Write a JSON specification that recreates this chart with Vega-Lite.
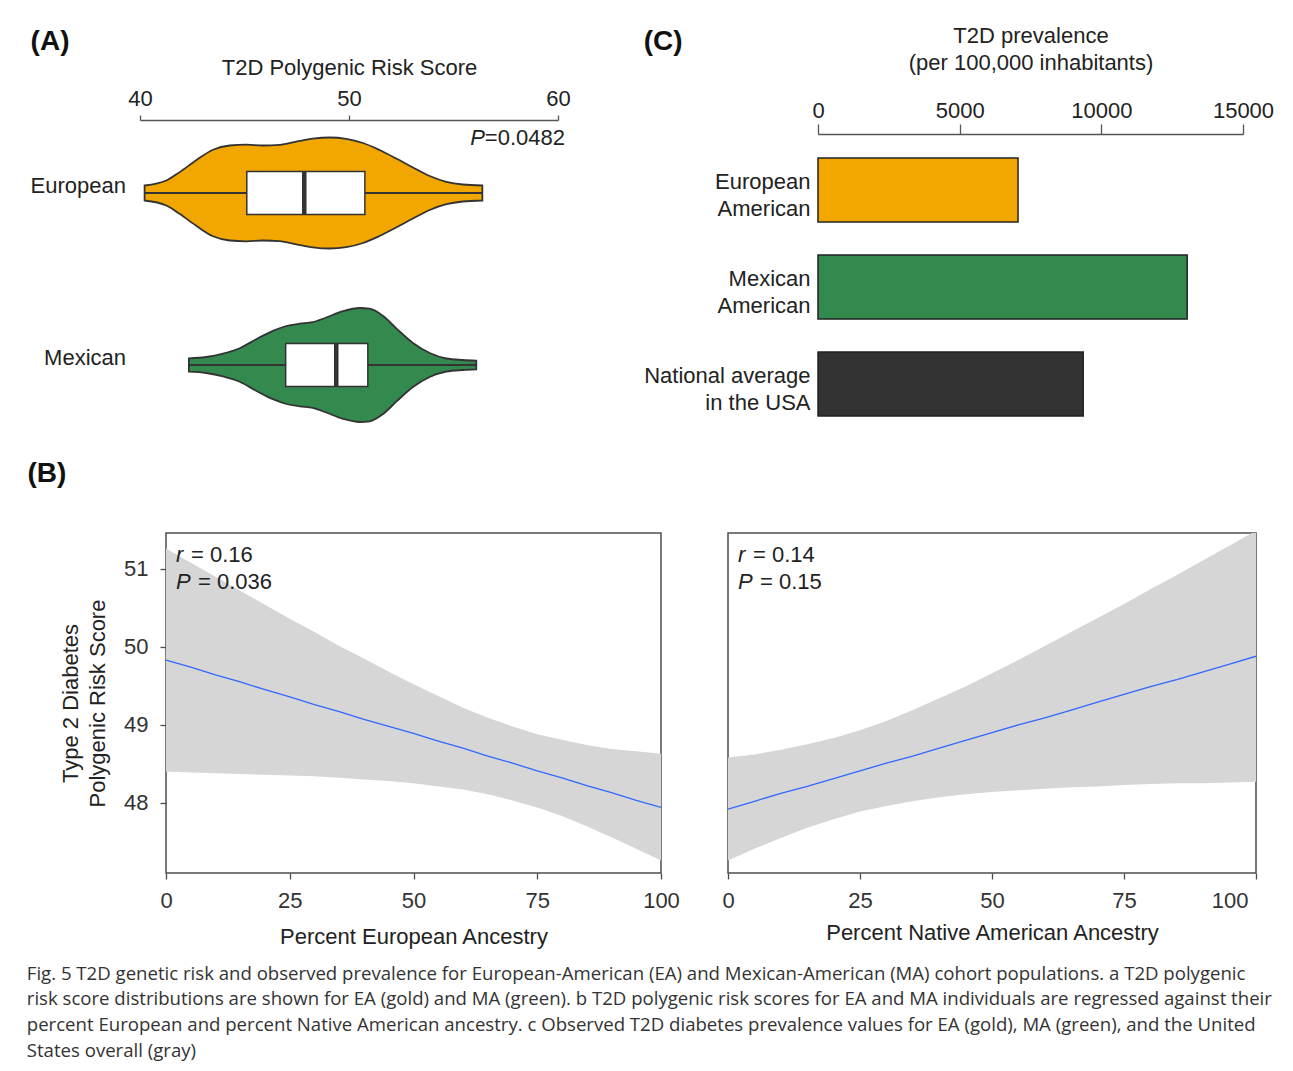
{
  "$schema": "https://vega.github.io/schema/vega-lite/v6.json",
  "padding": {"left": 26, "top": 24, "right": 15, "bottom": 0},
  "background": "white",
  "config": {
    "font": "Liberation Sans",
    "view": {"stroke": null},
    "axis": {"grid": false, "labelFlush": false, "labelFont": "Liberation Sans", "titleFont": "Liberation Sans", "titleFontWeight": "normal", "labelColor": "#222", "titleColor": "#222", "labelFontSize": 22, "titleFontSize": 22},
    "title": {"font": "Liberation Sans", "color": "#111"}
  },
  "title": {
    "text": [
      "Fig. 5 T2D genetic risk and observed prevalence for European-American (EA) and Mexican-American (MA) cohort populations. a T2D polygenic",
      "risk score distributions are shown for EA (gold) and MA (green). b T2D polygenic risk scores for EA and MA individuals are regressed against their",
      "percent European and percent Native American ancestry. c Observed T2D diabetes prevalence values for EA (gold), MA (green), and the United",
      "States overall (gray)"
    ],
    "orient": "bottom", "anchor": "start", "frame": "bounds",
    "font": "Open Sans", "fontSize": 18.6, "fontWeight": "normal", "color": "#333", "lineHeight": 25.6, "offset": 17
  },
  "datasets": {
    "euro": [
      {"score": 40.22, "d": 0.075, "nd": -0.075},
      {"score": 41.26, "d": 0.125, "nd": -0.125},
      {"score": 41.89, "d": 0.208, "nd": -0.208},
      {"score": 42.69, "d": 0.328, "nd": -0.328},
      {"score": 43.49, "d": 0.433, "nd": -0.433},
      {"score": 44.29, "d": 0.475, "nd": -0.475},
      {"score": 45.09, "d": 0.483, "nd": -0.483},
      {"score": 45.88, "d": 0.475, "nd": -0.475},
      {"score": 46.68, "d": 0.482, "nd": -0.482},
      {"score": 47.48, "d": 0.513, "nd": -0.513},
      {"score": 48.27, "d": 0.543, "nd": -0.543},
      {"score": 49.07, "d": 0.555, "nd": -0.555},
      {"score": 49.87, "d": 0.542, "nd": -0.542},
      {"score": 50.67, "d": 0.500, "nd": -0.500},
      {"score": 51.46, "d": 0.430, "nd": -0.430},
      {"score": 52.26, "d": 0.345, "nd": -0.345},
      {"score": 53.06, "d": 0.255, "nd": -0.255},
      {"score": 53.86, "d": 0.170, "nd": -0.170},
      {"score": 54.66, "d": 0.112, "nd": -0.112},
      {"score": 55.45, "d": 0.085, "nd": -0.085},
      {"score": 56.38, "d": 0.075, "nd": -0.075}
    ],
    "mex": [
      {"score": 42.34, "d": 0.067, "nd": -0.067},
      {"score": 43.17, "d": 0.080, "nd": -0.080},
      {"score": 43.97, "d": 0.113, "nd": -0.113},
      {"score": 44.77, "d": 0.167, "nd": -0.167},
      {"score": 45.56, "d": 0.258, "nd": -0.258},
      {"score": 46.36, "d": 0.342, "nd": -0.342},
      {"score": 47.00, "d": 0.390, "nd": -0.390},
      {"score": 47.64, "d": 0.413, "nd": -0.413},
      {"score": 48.27, "d": 0.428, "nd": -0.428},
      {"score": 48.91, "d": 0.475, "nd": -0.475},
      {"score": 49.71, "d": 0.538, "nd": -0.538},
      {"score": 50.51, "d": 0.570, "nd": -0.570},
      {"score": 50.99, "d": 0.563, "nd": -0.563},
      {"score": 51.62, "d": 0.492, "nd": -0.492},
      {"score": 52.26, "d": 0.367, "nd": -0.367},
      {"score": 53.06, "d": 0.220, "nd": -0.220},
      {"score": 53.86, "d": 0.120, "nd": -0.120},
      {"score": 54.66, "d": 0.065, "nd": -0.065},
      {"score": 55.45, "d": 0.050, "nd": -0.050},
      {"score": 56.09, "d": 0.043, "nd": -0.043}
    ],
    "b1": [
      {"x": 0, "lo": 48.40, "hi": 51.26, "fit": 49.83},
      {"x": 5, "lo": 48.39, "hi": 51.08, "fit": 49.74},
      {"x": 10, "lo": 48.38, "hi": 50.90, "fit": 49.64},
      {"x": 15, "lo": 48.37, "hi": 50.72, "fit": 49.55},
      {"x": 20, "lo": 48.36, "hi": 50.54, "fit": 49.45},
      {"x": 25, "lo": 48.35, "hi": 50.36, "fit": 49.36},
      {"x": 30, "lo": 48.34, "hi": 50.19, "fit": 49.26},
      {"x": 35, "lo": 48.32, "hi": 50.01, "fit": 49.17},
      {"x": 40, "lo": 48.30, "hi": 49.85, "fit": 49.07},
      {"x": 45, "lo": 48.28, "hi": 49.68, "fit": 48.98},
      {"x": 50, "lo": 48.25, "hi": 49.52, "fit": 48.89},
      {"x": 55, "lo": 48.21, "hi": 49.37, "fit": 48.79},
      {"x": 60, "lo": 48.17, "hi": 49.22, "fit": 48.70},
      {"x": 65, "lo": 48.11, "hi": 49.09, "fit": 48.60},
      {"x": 70, "lo": 48.03, "hi": 48.98, "fit": 48.51},
      {"x": 75, "lo": 47.94, "hi": 48.88, "fit": 48.41},
      {"x": 80, "lo": 47.83, "hi": 48.81, "fit": 48.32},
      {"x": 85, "lo": 47.70, "hi": 48.74, "fit": 48.22},
      {"x": 90, "lo": 47.56, "hi": 48.69, "fit": 48.13},
      {"x": 95, "lo": 47.41, "hi": 48.66, "fit": 48.03},
      {"x": 100, "lo": 47.26, "hi": 48.63, "fit": 47.94}
    ],
    "b2": [
      {"x": 0, "lo": 47.26, "hi": 48.58, "fit": 47.92},
      {"x": 5, "lo": 47.41, "hi": 48.62, "fit": 48.02},
      {"x": 10, "lo": 47.55, "hi": 48.68, "fit": 48.12},
      {"x": 15, "lo": 47.68, "hi": 48.75, "fit": 48.21},
      {"x": 20, "lo": 47.79, "hi": 48.83, "fit": 48.31},
      {"x": 25, "lo": 47.89, "hi": 48.93, "fit": 48.41},
      {"x": 30, "lo": 47.96, "hi": 49.05, "fit": 48.51},
      {"x": 35, "lo": 48.02, "hi": 49.19, "fit": 48.60},
      {"x": 40, "lo": 48.07, "hi": 49.34, "fit": 48.70},
      {"x": 45, "lo": 48.11, "hi": 49.49, "fit": 48.80},
      {"x": 50, "lo": 48.14, "hi": 49.66, "fit": 48.90},
      {"x": 55, "lo": 48.16, "hi": 49.83, "fit": 49.00},
      {"x": 60, "lo": 48.18, "hi": 50.01, "fit": 49.09},
      {"x": 65, "lo": 48.20, "hi": 50.19, "fit": 49.19},
      {"x": 70, "lo": 48.21, "hi": 50.37, "fit": 49.29},
      {"x": 75, "lo": 48.23, "hi": 50.55, "fit": 49.39},
      {"x": 80, "lo": 48.24, "hi": 50.74, "fit": 49.49},
      {"x": 85, "lo": 48.25, "hi": 50.92, "fit": 49.58},
      {"x": 90, "lo": 48.25, "hi": 51.11, "fit": 49.68},
      {"x": 95, "lo": 48.26, "hi": 51.30, "fit": 49.78},
      {"x": 100, "lo": 48.27, "hi": 51.49, "fit": 49.88}
    ]
  },
  "spacing": 19,
  "vconcat": [
    {
      "spacing": 59,
      "hconcat": [
        {
          "width": 392,
          "height": 300,
          "title": {"text": "(A)", "anchor": "start", "frame": "bounds", "fontSize": 28, "fontWeight": "bold", "offset": 0},
          "resolve": {"scale": {"y": "independent"}},
          "layer": [
            {
              "layer": [
                {
                  "data": {"name": "euro"},
                  "mark": {"type": "area", "color": "#F2A600", "stroke": "#333", "strokeWidth": 1.8, "interpolate": "monotone"},
                  "encoding": {
                    "x": {"field": "score", "type": "quantitative",
                      "scale": {"domain": [40, 60], "range": [-26, 392], "nice": false, "zero": false},
                      "axis": {"orient": "top", "offset": 14, "values": [40, 50, 60], "title": "T2D Polygenic Risk Score", "tickSize": 5, "labelPadding": 5, "titlePadding": 8, "domainColor": "#555", "tickColor": "#555", "domainWidth": 1.3, "tickWidth": 1.3}},
                    "y": {"field": "d", "type": "quantitative", "scale": {"domain": [-2.41, 0.59], "nice": false, "zero": false}, "axis": null},
                    "y2": {"field": "nd"}
                  }
                },
                {
                  "data": {"values": [{"group": "European", "lo": 40.22, "q1": 45.11, "med": 47.86, "q3": 50.76, "hi": 56.38}]},
                  "layer": [
                    {"mark": {"type": "rule", "color": "#333", "strokeWidth": 2},
                     "encoding": {"x": {"field": "lo", "type": "quantitative"}, "x2": {"field": "hi"}, "y": {"datum": 0}}},
                    {"mark": {"type": "rect", "fill": "white", "stroke": "#333", "strokeWidth": 1.5},
                     "encoding": {"x": {"field": "q1", "type": "quantitative"}, "x2": {"field": "q3"}, "y": {"datum": 0.215}, "y2": {"datum": -0.215}}},
                    {"mark": {"type": "rule", "color": "#333", "strokeWidth": 4.5},
                     "encoding": {"x": {"field": "med", "type": "quantitative"}, "y": {"datum": 0.215}, "y2": {"datum": -0.215}}},
                    {"mark": {"type": "text", "align": "right", "baseline": "alphabetic", "dx": -14, "fontSize": 22, "color": "#222"},
                     "encoding": {"x": {"datum": 40}, "y": {"datum": 0}, "text": {"field": "group"}}}
                  ]
                },
                {
                  "data": {"values": [{"p": "P", "v": "=0.0482"}]},
                  "layer": [
                    {"mark": {"type": "text", "align": "right", "baseline": "middle", "dx": 7, "fontSize": 22, "color": "#222"},
                     "encoding": {"x": {"datum": 60}, "y": {"datum": 0.55}, "text": {"field": "v"}}},
                    {"mark": {"type": "text", "align": "right", "baseline": "middle", "dx": -73, "fontSize": 22, "fontStyle": "italic", "color": "#222"},
                     "encoding": {"x": {"datum": 60}, "y": {"datum": 0.55}, "text": {"field": "p"}}}
                  ]
                }
              ]
            },
            {
              "layer": [
                {
                  "data": {"name": "mex"},
                  "mark": {"type": "area", "color": "#33894E", "stroke": "#333", "strokeWidth": 1.8, "interpolate": "monotone"},
                  "encoding": {
                    "x": {"field": "score", "type": "quantitative"},
                    "y": {"field": "d", "type": "quantitative", "scale": {"domain": [-0.69, 2.31], "nice": false, "zero": false}, "axis": null},
                    "y2": {"field": "nd"}
                  }
                },
                {
                  "data": {"values": [{"group": "Mexican", "lo": 42.34, "q1": 46.97, "med": 49.39, "q3": 50.90, "hi": 56.09}]},
                  "layer": [
                    {"mark": {"type": "rule", "color": "#333", "strokeWidth": 2},
                     "encoding": {"x": {"field": "lo", "type": "quantitative"}, "x2": {"field": "hi"}, "y": {"datum": 0}}},
                    {"mark": {"type": "rect", "fill": "white", "stroke": "#333", "strokeWidth": 1.5},
                     "encoding": {"x": {"field": "q1", "type": "quantitative"}, "x2": {"field": "q3"}, "y": {"datum": 0.215}, "y2": {"datum": -0.215}}},
                    {"mark": {"type": "rule", "color": "#333", "strokeWidth": 4.5},
                     "encoding": {"x": {"field": "med", "type": "quantitative"}, "y": {"datum": 0.215}, "y2": {"datum": -0.215}}},
                    {"mark": {"type": "text", "align": "right", "baseline": "alphabetic", "dx": -14, "fontSize": 22, "color": "#222"},
                     "encoding": {"x": {"datum": 40}, "y": {"datum": 0}, "text": {"field": "group"}}}
                  ]
                }
              ]
            }
          ]
        },
        {
          "width": 425,
          "height": 306,
          "title": {"text": "(C)", "anchor": "start", "frame": "bounds", "fontSize": 28, "fontWeight": "bold", "dy": 36},
          "data": {"values": [
            {"population": "European\nAmerican", "prevalence": 7060},
            {"population": "Mexican\nAmerican", "prevalence": 13030},
            {"population": "National average\nin the USA", "prevalence": 9360}
          ]},
          "mark": {"type": "bar", "stroke": "#222", "strokeWidth": 1.5},
          "encoding": {
            "y": {"field": "population", "type": "nominal", "sort": null,
              "scale": {"paddingInner": 0.34, "paddingOuter": 0.247},
              "axis": {"title": null, "ticks": false, "domain": false, "labelExpr": "split(datum.label, '\\n')", "labelLineHeight": 27, "labelPadding": 8, "labelLimit": 400, "labelAlign": "right", "labelOffset": -8}},
            "x": {"field": "prevalence", "type": "quantitative",
              "scale": {"domain": [0, 15000], "nice": false},
              "axis": {"orient": "top", "values": [0, 5000, 10000, 15000], "format": "d", "title": ["T2D prevalence", "(per 100,000 inhabitants)"], "titleLineHeight": 27, "titlePadding": 25, "labelPadding": 2, "tickSize": 10, "domainColor": "#555", "tickColor": "#555", "domainWidth": 1.3, "tickWidth": 1.3}},
            "color": {"field": "population", "type": "nominal",
              "scale": {"domain": ["European\nAmerican", "Mexican\nAmerican", "National average\nin the USA"], "range": ["#F2A600", "#33894E", "#333333"]},
              "legend": null}
          }
        }
      ]
    },
    {
      "spacing": 40,
      "hconcat": [
        {
          "width": 495,
          "height": 340,
          "title": {"text": "(B)", "anchor": "start", "frame": "bounds", "fontSize": 28, "fontWeight": "bold", "dx": -32, "offset": 45},
          "view": {"stroke": "#4d4d4d", "strokeWidth": 1.5},
          "layer": [
            {
              "data": {"name": "b1"},
              "mark": {"type": "area", "color": "#D6D6D6", "clip": true},
              "encoding": {
                "x": {"field": "x", "type": "quantitative", "scale": {"domain": [0, 100], "nice": false},
                  "axis": {"values": [0, 25, 50, 75, 100], "title": "Percent European Ancestry", "domain": false, "tickSize": 6, "tickColor": "#4d4d4d", "tickWidth": 1.3, "labelPadding": 11, "titlePadding": 15, "labelColor": "#333"}},
                "y": {"field": "lo", "type": "quantitative", "scale": {"domain": [47.1, 51.46], "nice": false, "zero": false},
                  "axis": {"values": [48, 49, 50, 51], "format": "d", "title": ["Type 2 Diabetes", "Polygenic Risk Score"], "titleLineHeight": 27, "domain": false, "tickSize": 6, "tickColor": "#4d4d4d", "tickWidth": 1.3, "labelPadding": 12, "titlePadding": 14, "labelColor": "#333"}},
                "y2": {"field": "hi"}
              }
            },
            {
              "data": {"name": "b1"},
              "mark": {"type": "line", "color": "#3366FF", "strokeWidth": 1.3, "clip": true},
              "encoding": {"x": {"field": "x", "type": "quantitative"}, "y": {"field": "fit", "type": "quantitative"}}
            },
            {"data": {"values": [{"t": "r"}]}, "mark": {"type": "text", "align": "left", "baseline": "middle", "dx": 10, "fontSize": 22, "fontStyle": "italic", "color": "#222"},
             "encoding": {"x": {"datum": 0}, "y": {"datum": 51.18}, "text": {"field": "t"}}},
            {"data": {"values": [{"t": "= 0.16"}]}, "mark": {"type": "text", "align": "left", "baseline": "middle", "dx": 25, "fontSize": 22, "color": "#222"},
             "encoding": {"x": {"datum": 0}, "y": {"datum": 51.18}, "text": {"field": "t"}}},
            {"data": {"values": [{"t": "P"}]}, "mark": {"type": "text", "align": "left", "baseline": "middle", "dx": 10, "fontSize": 22, "fontStyle": "italic", "color": "#222"},
             "encoding": {"x": {"datum": 0}, "y": {"datum": 50.83}, "text": {"field": "t"}}},
            {"data": {"values": [{"t": "= 0.036"}]}, "mark": {"type": "text", "align": "left", "baseline": "middle", "dx": 32, "fontSize": 22, "color": "#222"},
             "encoding": {"x": {"datum": 0}, "y": {"datum": 50.83}, "text": {"field": "t"}}}
          ]
        },
        {
          "width": 528,
          "height": 340,
          "view": {"stroke": "#4d4d4d", "strokeWidth": 1.5},
          "layer": [
            {
              "data": {"name": "b2"},
              "mark": {"type": "area", "color": "#D6D6D6", "clip": true},
              "encoding": {
                "x": {"field": "x", "type": "quantitative", "scale": {"domain": [0, 100], "nice": false},
                  "axis": {"values": [0, 25, 50, 75, 100], "title": "Percent Native American Ancestry", "domain": false, "tickSize": 6, "tickColor": "#4d4d4d", "tickWidth": 1.3, "labelPadding": 11, "titlePadding": 11, "labelColor": "#333",
                    "labelAlign": {"condition": {"test": "datum.value == 100", "value": "right"}, "value": "center"},
                    "labelOffset": {"condition": {"test": "datum.value == 100", "value": -8}, "value": 0}}},
                "y": {"field": "lo", "type": "quantitative", "scale": {"domain": [47.1, 51.46], "nice": false, "zero": false}, "axis": null},
                "y2": {"field": "hi"}
              }
            },
            {
              "data": {"name": "b2"},
              "mark": {"type": "line", "color": "#3366FF", "strokeWidth": 1.3, "clip": true},
              "encoding": {"x": {"field": "x", "type": "quantitative"}, "y": {"field": "fit", "type": "quantitative"}}
            },
            {"data": {"values": [{"t": "r"}]}, "mark": {"type": "text", "align": "left", "baseline": "middle", "dx": 10, "fontSize": 22, "fontStyle": "italic", "color": "#222"},
             "encoding": {"x": {"datum": 0}, "y": {"datum": 51.18}, "text": {"field": "t"}}},
            {"data": {"values": [{"t": "= 0.14"}]}, "mark": {"type": "text", "align": "left", "baseline": "middle", "dx": 25, "fontSize": 22, "color": "#222"},
             "encoding": {"x": {"datum": 0}, "y": {"datum": 51.18}, "text": {"field": "t"}}},
            {"data": {"values": [{"t": "P"}]}, "mark": {"type": "text", "align": "left", "baseline": "middle", "dx": 10, "fontSize": 22, "fontStyle": "italic", "color": "#222"},
             "encoding": {"x": {"datum": 0}, "y": {"datum": 50.83}, "text": {"field": "t"}}},
            {"data": {"values": [{"t": "= 0.15"}]}, "mark": {"type": "text", "align": "left", "baseline": "middle", "dx": 32, "fontSize": 22, "color": "#222"},
             "encoding": {"x": {"datum": 0}, "y": {"datum": 50.83}, "text": {"field": "t"}}}
          ]
        }
      ]
    }
  ]
}
